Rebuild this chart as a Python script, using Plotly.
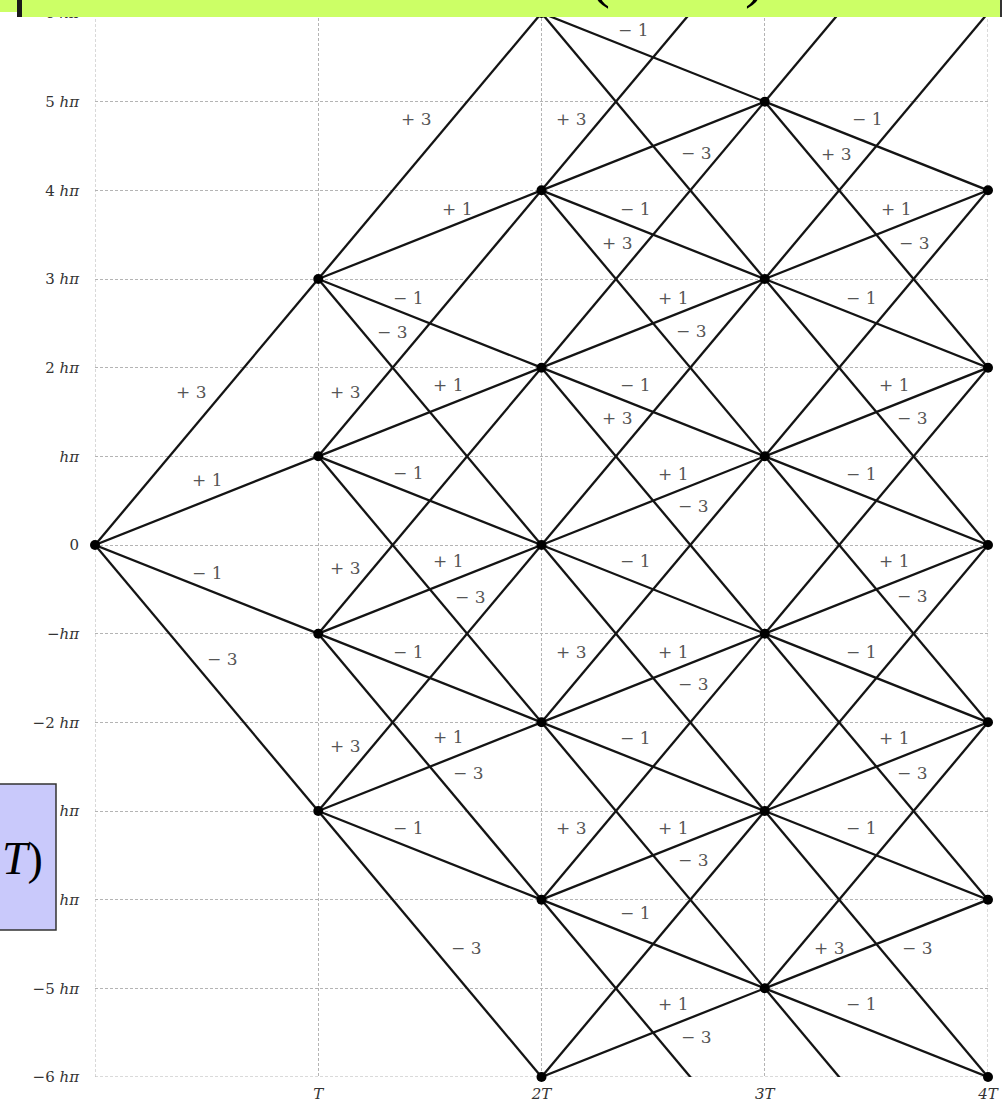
import plotly.graph_objects as go

# Lattice nodes: time in units of T, phase in units of h*pi
node_t = [0, 1, 1, 1, 1, 2, 2, 2, 2, 2, 2, 2, 3, 3, 3, 3, 3, 3]
node_h = [0, 3, 1, -1, -3, 6, 4, 2, 0, -2, -4, -6, 5, 3, 1, -1, -3, -5]

# Final-time nodes (only marked, no outgoing edges)
end_t = [4, 4, 4, 4, 4, 4]
end_h = [4, 2, 0, -2, -4, -6]

# Phase increments per period
steps = [3, 1, -1, -3]
# transition not drawn in the diagram
omitted = [(3, 5, 1)]

# Edge labels: (time, phase) where the label sits, and the increment it names
label_t = [2.41, 1.44, 2.13, 2.69, 3.46, 3.32, 1.62, 2.42, 3.59, 2.34, 3.67,
           1.40, 2.59, 3.43, 1.33, 2.67, 0.43, 1.12, 1.58, 2.42, 3.58, 2.34,
           3.66, 0.50, 1.40, 2.59, 3.43, 2.68, 0.50, 1.12, 1.58, 2.42, 3.58,
           1.68, 3.66, 0.57, 1.40, 2.13, 2.59, 3.43, 2.68, 1.12, 1.58, 2.42,
           3.58, 1.67, 3.66, 1.40, 2.13, 2.59, 3.43, 2.68, 2.42, 1.66, 3.29,
           3.68, 2.59, 3.43, 2.69]
label_h = [5.81, 4.80, 4.80, 4.42, 4.80, 4.41, 3.79, 3.79, 3.79, 3.41, 3.41,
           2.79, 2.79, 2.79, 2.40, 2.41, 1.73, 1.73, 1.80, 1.80, 1.80, 1.43,
           1.43, 0.73, 0.81, 0.80, 0.80, 0.44, -0.32, -0.26, -0.18, -0.18, -0.18,
           -0.59, -0.58, -1.29, -1.21, -1.21, -1.21, -1.21, -1.57, -2.27, -2.17, -2.18,
           -2.18, -2.57, -2.57, -3.19, -3.19, -3.19, -3.19, -3.55, -4.15, -4.55, -4.55,
           -4.55, -5.18, -5.18, -5.55]
label_step = [-1, 3, 3, -3, -1, 3, 1, -1, 1, 3, -3,
              -1, 1, -1, -3, -3, 3, 3, 1, -1, 1, 3,
              -3, 1, -1, 1, -1, -3, -1, 3, 1, -1, 1,
              -3, -3, -3, -1, 3, 1, -1, -3, 3, 1, -1,
              1, -3, -3, -1, 3, 1, -1, -3, -1, -3, 3,
              -3, 1, -1, -3]

# Axis ticks
y_vals = list(range(-6, 7))
x_vals = [1, 2, 3, 4]
x_text = ["<i>T</i>", "2<i>T</i>", "3<i>T</i>", "4<i>T</i>"]


def phase_label(k):
    if k == 0:
        return "0"
    sign = "−" if k < 0 else ""
    mag = abs(k)
    return f"{sign}<i>hπ</i>" if mag == 1 else f"{sign}{mag} <i>hπ</i>"


y_text = [phase_label(k) for k in y_vals]

# Build edge polyline (segments separated by None); the plot area clips them
ex, ey = [], []
for t, h in zip(node_t, node_h):
    for s in steps:
        if (t, h, s) in omitted:
            continue
        ex += [t, t + 1, None]
        ey += [h, h + s, None]

GRID = "#b4b4b4"
DASH = "3px,2px"

fig = go.Figure()
fig.add_trace(go.Scatter(
    x=ex, y=ey, mode="lines",
    line=dict(color="#141414", width=2.3),
    hoverinfo="skip", showlegend=False,
))
fig.add_trace(go.Scatter(
    x=node_t + end_t, y=node_h + end_h, mode="markers",
    marker=dict(color="black", size=10),
    cliponaxis=False, hoverinfo="skip", showlegend=False,
))

for t, h, s in zip(label_t, label_h, label_step):
    txt = f"+ {s}" if s > 0 else f"− {abs(s)}"
    fig.add_annotation(
        x=t, y=h, xref="x", yref="y", text=txt, showarrow=False,
        xanchor="center", yanchor="middle",
        font=dict(family="DejaVu Serif", size=17, color="#555555"),
    )

W, H = 1006, 1107
ML, MR, MT, MB = 95, 18, 13, 30
PW, PH = W - ML - MR, H - MT - MB


def px_x(px):
    return (px - ML) / PW


def px_y(py):
    return (H - MB - py) / PH


shapes = [
    # title banner strip at the top edge
    dict(type="rect", xref="paper", yref="paper", layer="above",
         x0=px_x(20), x1=px_x(1001), y0=px_y(17), y1=px_y(-5),
         fillcolor="#ccff66", line=dict(width=0)),
    dict(type="rect", xref="paper", yref="paper", layer="above",
         x0=px_x(-5), x1=px_x(20), y0=px_y(12), y1=px_y(-5),
         fillcolor="#ccff66", line=dict(width=0)),
    dict(type="rect", xref="paper", yref="paper", layer="above",
         x0=px_x(17), x1=px_x(22), y0=px_y(17), y1=px_y(-5),
         fillcolor="#1a1a1a", line=dict(width=0)),
    dict(type="line", xref="paper", yref="paper", layer="above",
         x0=px_x(1001), x1=px_x(1001), y0=px_y(17), y1=px_y(-5),
         line=dict(color="#333333", width=2)),
    # formula box on the left edge
    dict(type="rect", xref="paper", yref="paper", layer="above",
         x0=px_x(-10), x1=px_x(56), y0=px_y(930), y1=px_y(784),
         fillcolor="#c9c9fb", line=dict(color="#333333", width=1.5)),
]

fig.add_annotation(x=px_x(600), y=px_y(-24), xref="paper", yref="paper",
                   text="(", showarrow=False, xanchor="center", yanchor="middle",
                   font=dict(family="Liberation Serif", size=60, color="black"))
fig.add_annotation(x=px_x(755), y=px_y(-24), xref="paper", yref="paper",
                   text=")", showarrow=False, xanchor="center", yanchor="middle",
                   font=dict(family="Liberation Serif", size=60, color="black"))
fig.add_annotation(x=px_x(45), y=px_y(858), xref="paper", yref="paper",
                   text="<i>T</i>)", showarrow=False, xanchor="right", yanchor="middle",
                   font=dict(family="Liberation Serif", size=46, color="black"))

fig.update_layout(
    width=W, height=H,
    margin=dict(l=ML, r=MR, t=MT, b=MB),
    paper_bgcolor="white", plot_bgcolor="white",
    shapes=shapes,
    showlegend=False,
)
fig.update_xaxes(
    range=[0, 4], tickvals=x_vals, ticktext=x_text, automargin=False,
    showgrid=True, gridcolor=GRID, gridwidth=1, griddash=DASH,
    zeroline=False, showline=False,
    ticks="outside", ticklen=3, tickcolor="rgba(0,0,0,0)",
    tickfont=dict(family="DejaVu Serif", size=15, color="#333333", style="italic"),
)
fig.update_yaxes(
    range=[-6, 6], tickvals=y_vals, ticktext=y_text, automargin=False,
    showgrid=True, gridcolor=GRID, gridwidth=1, griddash=DASH,
    zeroline=False, showline=False,
    ticks="outside", ticklen=12, tickcolor="rgba(0,0,0,0)",
    tickfont=dict(family="DejaVu Serif", size=15, color="#333333"),
)
# dotted frame lines along the range limits
for xv in (0, 4):
    fig.add_vline(x=xv, line=dict(color=GRID, width=1, dash=DASH), layer="below")
for yv in (-6, 6):
    fig.add_hline(y=yv, line=dict(color=GRID, width=1, dash=DASH), layer="below")

fig.write_html("out.html")
